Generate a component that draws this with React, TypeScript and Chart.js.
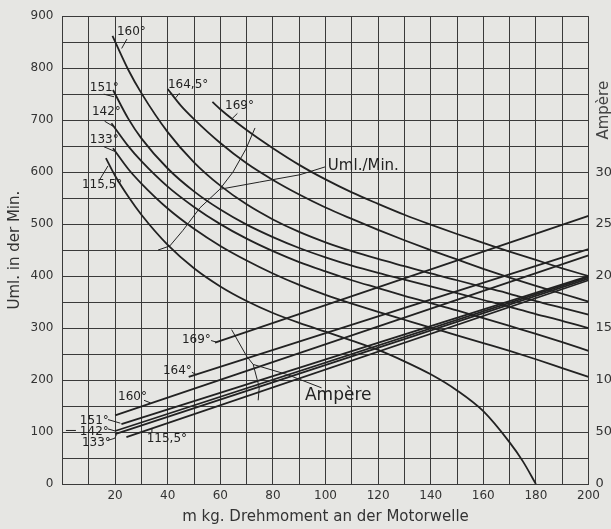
import React, { useEffect, useRef } from 'react';
import { Chart, registerables } from 'chart.js';

Chart.register(...registerables);

type Pt = [number, number];

// ---- axis ranges and tick labels ----
const torqueMin = 0;
const torqueMax = 200;
const speedMax = 900;
const ampMax = 450;
const xLabelValues = [20, 40, 60, 80, 100, 120, 140, 160, 180, 200];
const yLabelValues = [0, 100, 200, 300, 400, 500, 600, 700, 800, 900];
const ampLabelValues = [0, 50, 100, 150, 200, 250, 300];

// ---- Uml./Min. curves (torque m kg, revolutions per minute) ----
const speed115_5: Pt[] = [[16.5, 627], [20, 593], [25, 553], [30, 518], [40, 460], [50, 415], [60, 380], [70, 352], [80, 329], [90, 310], [100, 293], [110, 276], [120, 258], [130, 236], [140, 211], [150, 180], [160, 140], [170, 80], [175, 44], [180, 0]];
const speed133: Pt[] = [[19.2, 646], [25, 606], [30, 578], [40, 530], [50, 491], [60, 458], [70, 430], [80, 405], [90, 383], [100, 364], [110, 347], [120, 331], [130, 316], [140, 301], [150, 286], [160, 271], [170, 256], [180, 240], [190, 223], [200, 206]];
const speed142: Pt[] = [[18.6, 694], [25, 650], [30, 621], [40, 572], [50, 533], [60, 500], [70, 472], [80, 448], [90, 427], [100, 409], [110, 392], [120, 377], [130, 362], [140, 348], [150, 334], [160, 319], [170, 304], [180, 289], [190, 273], [200, 256]];
const speed151: Pt[] = [[19.2, 758], [25, 703], [30, 665], [40, 607], [50, 563], [60, 528], [70, 499], [80, 475], [90, 454], [100, 436], [110, 420], [120, 406], [130, 393], [140, 380], [150, 367], [160, 354], [170, 341], [180, 327], [190, 314], [200, 300]];
const speed160: Pt[] = [[19, 862], [25, 797], [30, 752], [40, 677], [50, 619], [60, 574], [70, 538], [80, 509], [90, 485], [100, 465], [110, 448], [120, 433], [130, 419], [140, 405], [150, 392], [160, 379], [170, 366], [180, 352], [190, 339], [200, 326]];
const speed164_5: Pt[] = [[40, 760], [45, 728], [50, 702], [60, 656], [70, 617], [80, 585], [90, 557], [100, 532], [110, 510], [120, 489], [130, 469], [140, 450], [150, 432], [160, 414], [170, 397], [180, 381], [190, 366], [200, 351]];
const speed169: Pt[] = [[57, 735], [60, 721], [70, 681], [80, 646], [90, 614], [100, 586], [110, 561], [120, 539], [130, 518], [140, 499], [150, 481], [160, 464], [170, 447], [180, 431], [190, 415], [200, 400]];

// ---- Ampère lines (torque m kg, ampere) ----
const amp115_5: Pt[] = [[24.3, 45], [200, 196]];
const amp133: Pt[] = [[20, 48], [200, 197.5]];
const amp142: Pt[] = [[20, 51], [200, 199]];
const amp151: Pt[] = [[22.4, 57.5], [200, 200]];
const amp160: Pt[] = [[20, 66], [200, 220]];
const amp164: Pt[] = [[48, 103], [200, 226]];
const amp169: Pt[] = [[58, 136], [200, 258]];

// ---- annotations (positions in torque / Uml. units) ----
type Note = { text: string; at: Pt; leader?: Pt[]; size?: number };
const speedNotes: Note[] = [
  { text: '160°', at: [20.7, 870], leader: [[24.5, 856], [22.5, 838]] },
  { text: '164,5°', at: [40.1, 768], leader: [[44.5, 752], [43, 743]] },
  { text: '169°', at: [61.8, 728], leader: [[66.5, 713], [64.5, 703]] },
  { text: '151°', at: [10.4, 762], leader: [[15.7, 750], [19.6, 745]] },
  { text: '142°', at: [11.2, 715], leader: [[16, 698], [19.3, 688]] },
  { text: '133°', at: [10.4, 662], leader: [[15.7, 649], [19.8, 640]] },
  { text: '115,5°', at: [7.4, 575], leader: [[14.2, 586], [17.3, 612]] },
];
const ampNotes: Note[] = [
  { text: '169°', at: [45.4, 277], leader: [[56.5, 276], [58.5, 273]] },
  { text: '164°', at: [38.2, 217], leader: [[49.2, 215], [51, 210]] },
  { text: '160°', at: [21.1, 167], leader: [[31, 161], [33.5, 156]] },
  { text: '151°', at: [6.6, 122], leader: [[17.3, 124], [22, 117]] },
  { text: '142°', at: [6.6, 101], leader: [[17.3, 106], [20, 102]] },
  { text: '133°', at: [7.4, 79], leader: [[17.3, 84], [19.9, 88], [20.5, 95]] },
  { text: '115,5°', at: [32, 87], leader: [[34, 98], [34, 106]] },
];
const dash142: Pt[] = [[1.3, 103], [5.1, 103]];
const umlText: Note = { text: 'Uml./Min.', at: [100.9, 611], size: 15 };
const umlBrace: Pt[] = [[73.2, 685], [69.7, 644], [64.8, 600], [59.8, 567], [52.2, 531], [45.8, 488], [40.8, 458], [36.3, 450]];
const umlBranch: Pt[] = [[59.8, 567], [75, 581], [90.3, 595], [99.8, 610]];
const ampText: Note = { text: 'Ampère', at: [92.2, 171], size: 17 };
const ampBrace: Pt[] = [[64.3, 297], [70, 246], [72.5, 230], [74.8, 186], [74.4, 161]];
const ampBranch: Pt[] = [[72.5, 230], [85.2, 211], [98.5, 185]];

const INK = '#222222';
const GRID = '#3a3a3a';
const BG = '#e6e6e3';
const FONT = "'DejaVu Sans', 'Liberation Sans', sans-serif";

const toXY = (pts: Pt[]) => pts.map(([x, y]) => ({ x, y }));

export default function App() {
  const ref = useRef<HTMLCanvasElement>(null);

  useEffect(() => {
    const canvas = ref.current;
    if (!canvas) return;

    const notesPlugin = {
      id: 'notes',
      afterDatasetsDraw(chart: any) {
        const { ctx, chartArea } = chart;
        const xs = chart.scales.x;
        const ys = chart.scales.y;
        const px = (p: Pt): Pt => [xs.getPixelForValue(p[0]), ys.getPixelForValue(p[1])];
        ctx.save();
        ctx.strokeStyle = INK;
        ctx.fillStyle = INK;
        ctx.lineWidth = 1;
        const line = (pts: Pt[]) => {
          ctx.beginPath();
          pts.forEach((p, i) => {
            const [a, b] = px(p);
            if (i === 0) ctx.moveTo(a, b);
            else ctx.lineTo(a, b);
          });
          ctx.stroke();
        };
        const note = (n: Note) => {
          ctx.font = `${n.size ?? 12}px ${FONT}`;
          ctx.textAlign = 'left';
          ctx.textBaseline = 'middle';
          const [a, b] = px(n.at);
          ctx.fillText(n.text, a, b);
          if (n.leader) line(n.leader);
        };
        speedNotes.forEach(note);
        ampNotes.forEach(note);
        line(dash142);
        note(umlText);
        line(umlBrace);
        line(umlBranch);
        note(ampText);
        line(ampBrace);
        line(ampBranch);

        // right axis title
        ctx.translate(chartArea.right + 16, chartArea.top + 94);
        ctx.rotate(-Math.PI / 2);
        ctx.font = `15px ${FONT}`;
        ctx.textAlign = 'center';
        ctx.textBaseline = 'middle';
        ctx.fillStyle = '#444';
        ctx.fillText('Ampère', 0, 0);
        ctx.restore();
      },
    };

    const speedSets = [speed115_5, speed133, speed142, speed151, speed160, speed164_5, speed169].map((d) => ({
      data: toXY(d),
      showLine: true,
      borderColor: INK,
      borderWidth: 1.8,
      pointRadius: 0,
      cubicInterpolationMode: 'monotone' as const,
      yAxisID: 'y',
    }));
    const ampSets = [amp115_5, amp133, amp142, amp151, amp160, amp164, amp169].map((d) => ({
      data: toXY(d),
      showLine: true,
      borderColor: INK,
      borderWidth: 1.8,
      pointRadius: 0,
      yAxisID: 'y2',
    }));

    const tickFont = { family: FONT, size: 12 };

    const chart = new Chart(canvas, {
      type: 'scatter',
      data: { datasets: [...speedSets, ...ampSets] as any },
      options: {
        responsive: false,
        animation: false,
        devicePixelRatio: 1,
        layout: { padding: { top: 9, left: 0, right: 0, bottom: 0 } },
        plugins: { legend: { display: false }, tooltip: { enabled: false } },
        scales: {
          x: {
            type: 'linear',
            position: 'bottom',
            min: torqueMin,
            max: torqueMax,
            ticks: {
              stepSize: 10,
              autoSkip: false,
              maxRotation: 0,
              padding: 5,
              color: '#333',
              font: tickFont,
              callback: (v: any) => (xLabelValues.includes(Number(v)) ? String(v) : ''),
            },
            grid: { color: GRID, lineWidth: 1, drawTicks: false },
            border: { color: GRID, width: 1 },
            title: {
              display: true,
              text: 'm kg. Drehmoment an der Motorwelle',
              color: '#333',
              font: { family: FONT, size: 15 },
              padding: { top: 0, bottom: 3 },
            },
            afterFit: (s: any) => {
              s.height = 45;
            },
          },
          y: {
            type: 'linear',
            position: 'left',
            min: 0,
            max: speedMax,
            ticks: {
              stepSize: 50,
              autoSkip: false,
              padding: 9,
              color: '#333',
              font: tickFont,
              callback: (v: any) => (yLabelValues.includes(Number(v)) ? String(v) : ''),
            },
            grid: { color: GRID, lineWidth: 1, drawTicks: false },
            border: { color: GRID, width: 1 },
            title: {
              display: true,
              text: 'Uml. in der Min.',
              color: '#333',
              font: { family: FONT, size: 15 },
              padding: { top: 6, bottom: 0 },
            },
            afterFit: (s: any) => {
              s.width = 62.5;
            },
          },
          y2: {
            type: 'linear',
            position: 'right',
            min: 0,
            max: ampMax,
            ticks: {
              stepSize: 50,
              autoSkip: false,
              padding: 7,
              color: '#333',
              font: { family: FONT, size: 13 },
              callback: (v: any) => (ampLabelValues.includes(Number(v)) ? String(v) : ''),
            },
            grid: { display: false, drawTicks: false },
            border: { display: false },
            afterFit: (s: any) => {
              s.width = 51.5;
            },
          },
        },
      } as any,
      plugins: [notesPlugin],
    });

    return () => chart.destroy();
  }, []);

  return (
    <div
      style={{
        position: 'absolute',
        left: 0,
        top: 0,
        width: 611,
        height: 529,
        overflow: 'hidden',
        background: BG,
      }}
    >
      <canvas ref={ref} width={640} height={529} style={{ display: 'block', width: 640, height: 529 }} />
    </div>
  );
}
